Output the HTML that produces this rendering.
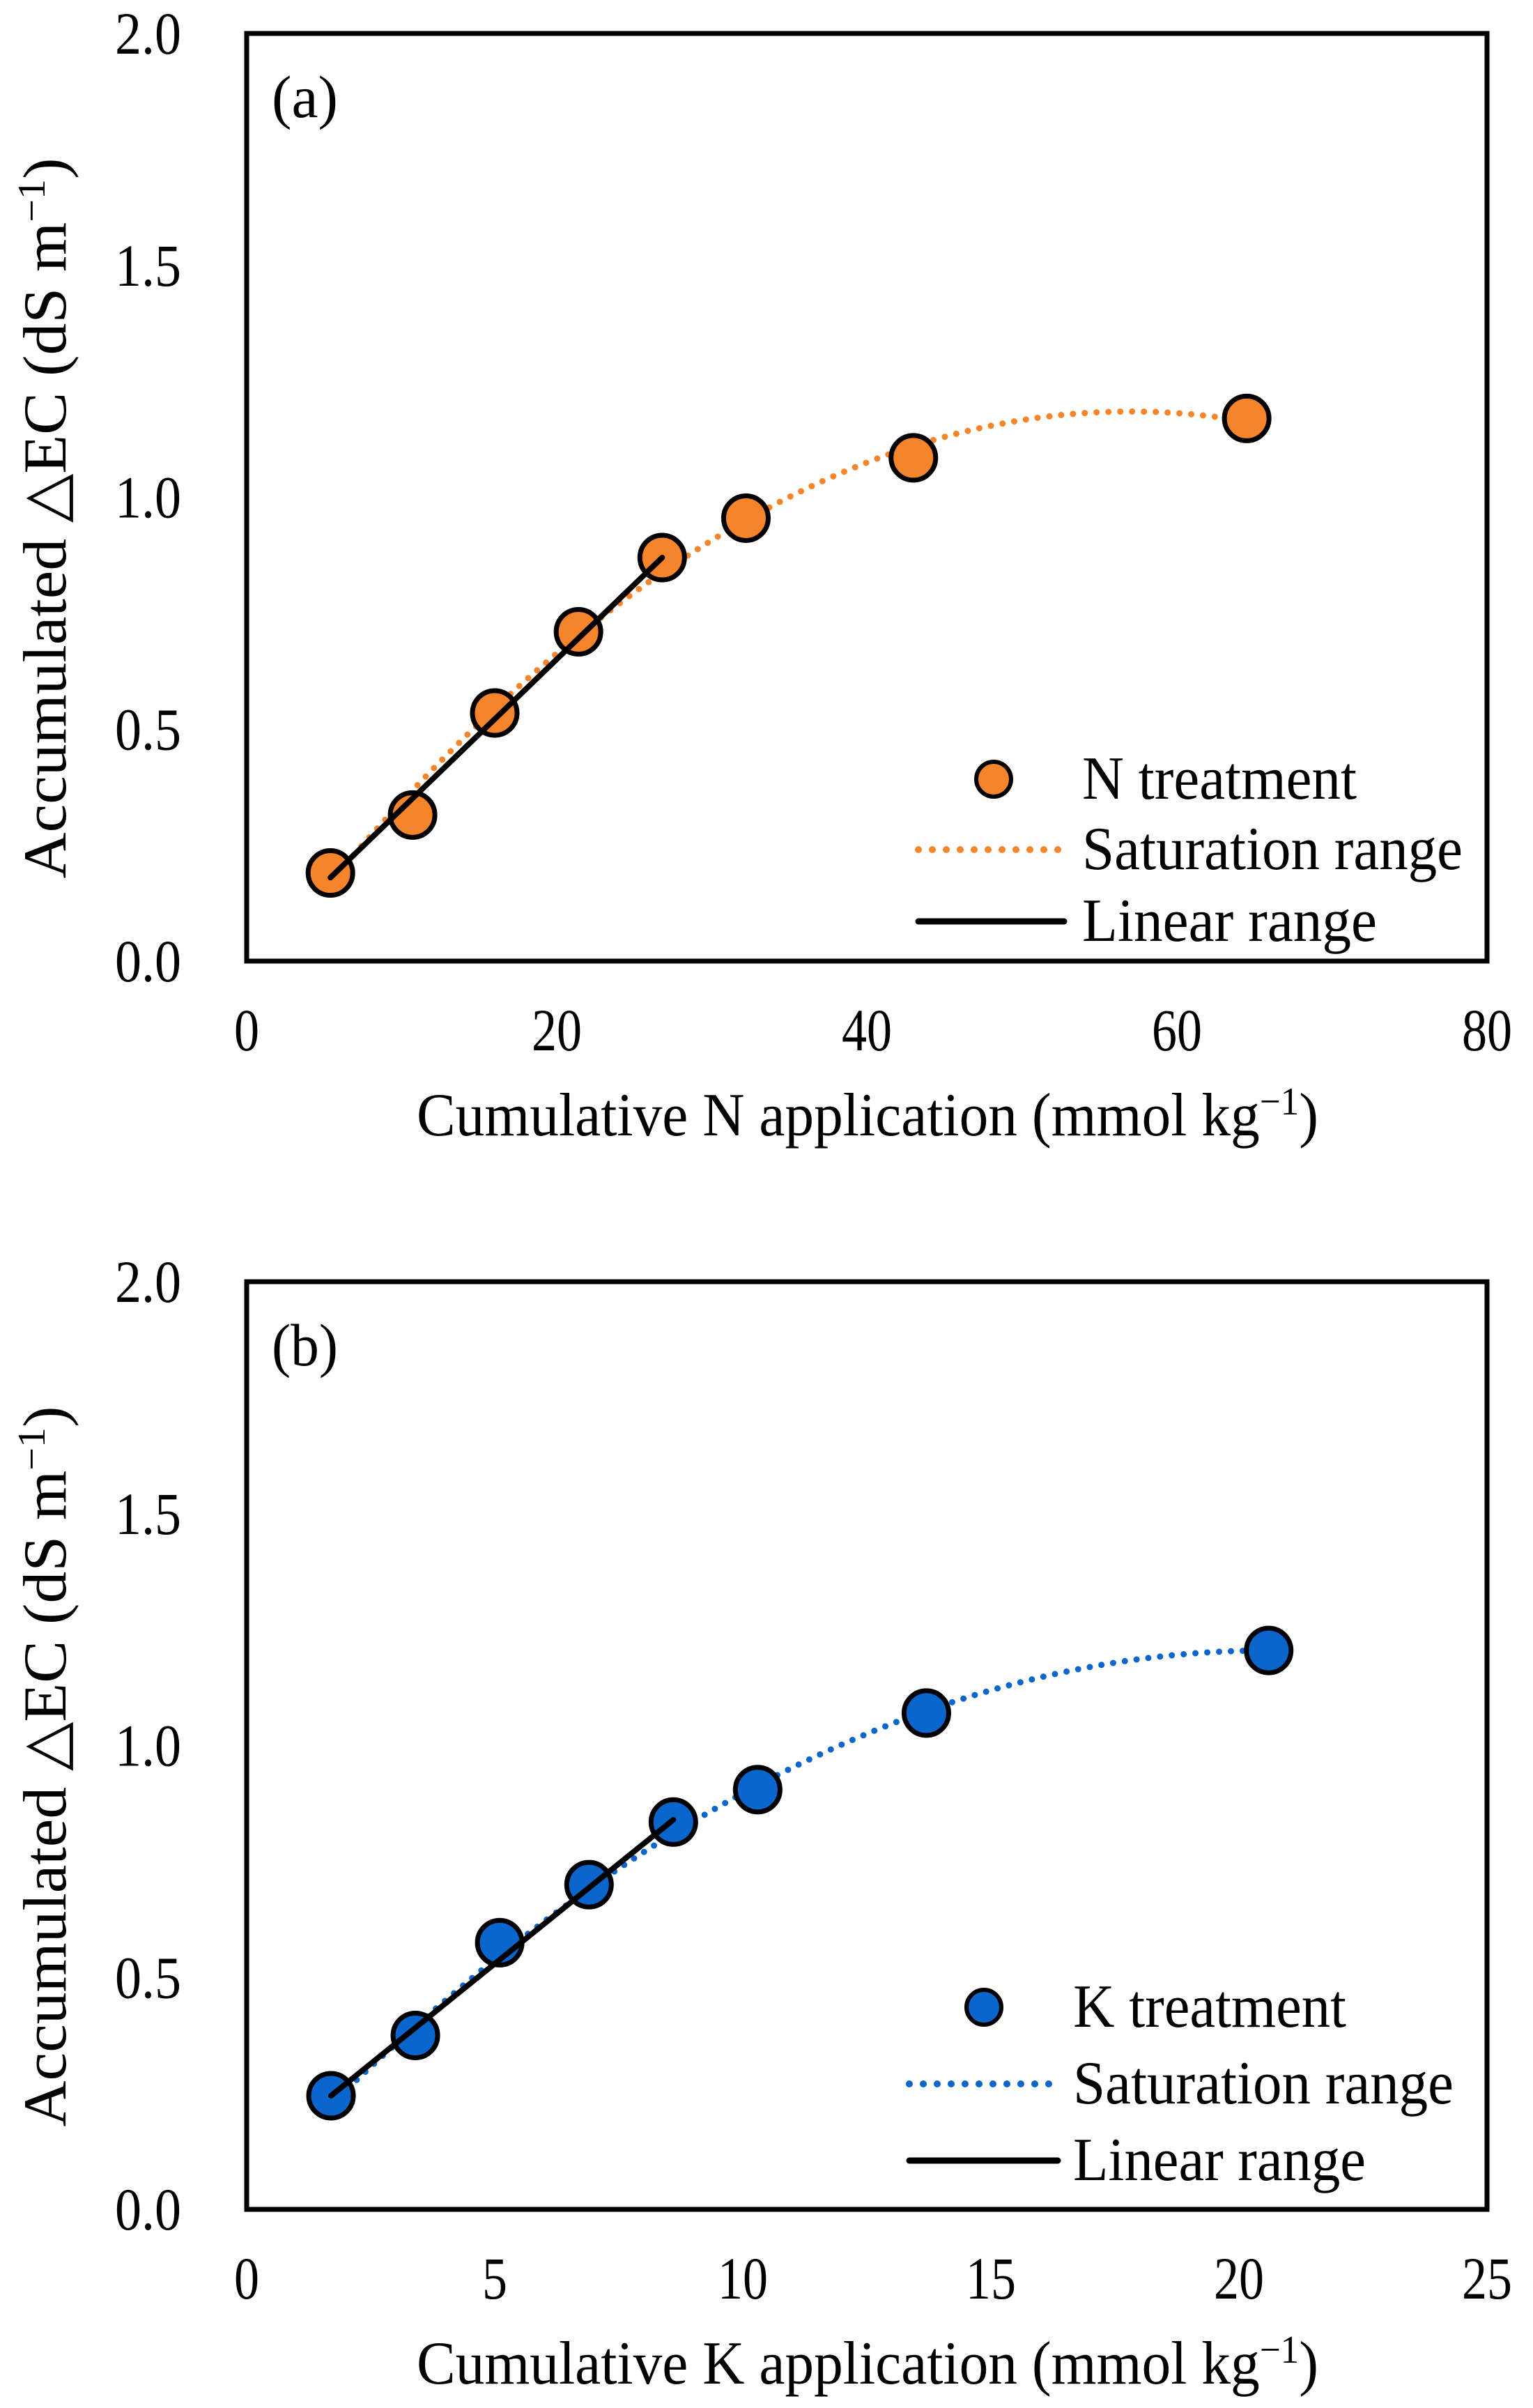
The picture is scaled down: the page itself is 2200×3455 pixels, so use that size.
<!DOCTYPE html>
<html><head><meta charset="utf-8"><style>
html,body{margin:0;padding:0;background:#fff}
svg{display:block}
text{font-family:"Liberation Serif",serif;fill:#000}
</style></head><body>
<svg id="chart" width="2200" height="3455" viewBox="0 0 2200 3455" xmlns="http://www.w3.org/2000/svg"></svg>
<script>
// Panel (a) data: N treatment
const nX = [5.4, 10.7, 16.0, 21.4, 26.8, 32.2, 43.0, 64.5];
const nY = [0.19, 0.315, 0.535, 0.71, 0.87, 0.955, 1.085, 1.17];
const nLinear = [[5.4, 0.18], [26.8, 0.87]];
const nSatPeak = [57, 1.185];
const nSatK = 0.000381;
const nSatRange = [5.4, 64.5];
const nXTicks = [0, 20, 40, 60, 80];
// Panel (b) data: K treatment
const kX = [1.7, 3.4, 5.1, 6.9, 8.6, 10.3, 13.7, 20.6];
const kY = [0.245, 0.375, 0.575, 0.70, 0.835, 0.905, 1.07, 1.205];
const kLinear = [[1.7, 0.245], [8.6, 0.84]];
const kSatPeak = [20.6, 1.205];
const kSatK = 0.00274;
const kSatRange = [1.7, 20.6];
const kXTicks = [0, 5, 10, 15, 20, 25];
const yTicks = [0.0, 0.5, 1.0, 1.5, 2.0];

const NS = "http://www.w3.org/2000/svg";
const svg = document.getElementById('chart');
function mk(tag, attrs, parent) {
  const e = document.createElementNS(NS, tag);
  for (const k in attrs) e.setAttribute(k, attrs[k]);
  (parent || svg).appendChild(e);
  return e;
}

function panel(o) {
  const L = 354, R = 2134, T = o.top, B = o.top + 1331;
  const g = mk('g', {});
  
  
  const sx = v => L + (v - o.xmin) / (o.xmax - o.xmin) * (R - L);
  const sy = v => B - v / 2.0 * (B - T);

  yTicks.forEach(t => {
    const tx = mk('text', {x: 260, y: sy(t) + 29, 'text-anchor': 'end', 'font-size': 86, textLength: 95, lengthAdjust: 'spacingAndGlyphs'}, g);
    tx.textContent = t.toFixed(1);
    
    
  });
  o.xTicks.forEach(t => {
    const s = String(t);
    const tx = mk('text', {x: sx(t), y: B + 128, 'text-anchor': 'middle', 'font-size': 86, textLength: s.length * 36, lengthAdjust: 'spacingAndGlyphs'}, g);
    tx.textContent = s;
    
    
  });
  const xt = mk('text', {x: 1245, y: B + 250, 'text-anchor': 'middle', 'font-size': 88, textLength: 1294, lengthAdjust: 'spacingAndGlyphs'}, g);
  xt.innerHTML = 'Cumulative ' + o.el + ' application (mmol kg<tspan dy="-30" font-size="56">−1</tspan><tspan dy="30">)</tspan>';
  
  
  const cy = (T + B) / 2 + 30;
  const yt = mk('text', {x: 0, y: 0, 'text-anchor': 'middle', 'font-size': 88, textLength: 1034, lengthAdjust: 'spacingAndGlyphs', transform: `translate(94 ${cy}) rotate(-90)`}, g);
  yt.innerHTML = 'Accumulated △EC (dS m<tspan dy="-30" font-size="56">−1</tspan><tspan dy="30">)</tspan>';
  
  

  let d = '';
  const n = 80;
  for (let i = 0; i <= n; i++) {
    const x = o.satRange[0] + (o.satRange[1] - o.satRange[0]) * i / n;
    const y = o.satPeak[1] - o.satK * (x - o.satPeak[0]) ** 2;
    d += (i ? 'L' : 'M') + sx(x).toFixed(1) + ' ' + sy(y).toFixed(1);
  }
  const sat = mk('path', {d: d, fill: 'none', stroke: o.color, 'stroke-width': 9, 'stroke-dasharray': '0 17', 'stroke-linecap': 'round'}, g);
  
  

  o.xs.forEach((x, i) => {
    const c = mk('circle', {cx: sx(x), cy: sy(o.ys[i]), r: 32, fill: o.color, stroke: '#000', 'stroke-width': 7}, g);
    
    
  });

  const ln = mk('line', {x1: sx(o.lin[0][0]), y1: sy(o.lin[0][1]), x2: sx(o.lin[1][0]), y2: sy(o.lin[1][1]), stroke: '#000', 'stroke-width': 8, 'stroke-linecap': 'round'}, g);
  
  

  const fr = mk('rect', {x: L, y: T, width: R - L, height: B - T, fill: 'none', stroke: '#000', 'stroke-width': 7}, g);
  
  

  const pl = mk('text', {x: 390, y: T + 120, 'font-size': 86, textLength: 95, lengthAdjust: 'spacingAndGlyphs'}, g);
  pl.textContent = o.label;
  
  

  const lg = mk('g', {}, g);
  
  
  const lx = o.legX, tx0 = o.legTextX, r = o.legRows;
  const lm = mk('circle', {cx: lx.marker, cy: r[0], r: 25, fill: o.color, stroke: '#000', 'stroke-width': 6}, lg);
  
  
  const ls = mk('line', {x1: lx.l1, y1: r[1], x2: lx.l2, y2: r[1], stroke: o.color, 'stroke-width': 10, 'stroke-dasharray': '0 20', 'stroke-linecap': 'round'}, lg);
  
  
  const ll = mk('line', {x1: lx.l1, y1: r[2], x2: lx.l2, y2: r[2], stroke: '#000', 'stroke-width': 9, 'stroke-linecap': 'round'}, lg);
  
  
  const labels = [o.el + ' treatment', 'Saturation range', 'Linear range'];
  const widths = [o.w0, 546, o.w2];
  labels.forEach((s, i) => {
    const t = mk('text', {x: tx0, y: r[i] + 28, 'font-size': 88, textLength: widths[i], lengthAdjust: 'spacingAndGlyphs'}, lg);
    t.textContent = s;
    
    
  });
}

panel({name: 'panel-a-n-treatment', top: 48, xmin: 0, xmax: 80, xTicks: nXTicks, el: 'N', label: '(a)',
  xs: nX, ys: nY, lin: nLinear, satPeak: nSatPeak, satK: nSatK, satRange: nSatRange, color: '#F5842A',
  legX: {marker: 1426, l1: 1318, l2: 1527}, legTextX: 1553, legRows: [1118, 1219, 1322], w0: 394, w2: 423});
panel({name: 'panel-b-k-treatment', top: 1839, xmin: 0, xmax: 25, xTicks: kXTicks, el: 'K', label: '(b)',
  xs: kX, ys: kY, lin: kLinear, satPeak: kSatPeak, satK: kSatK, satRange: kSatRange, color: '#0A66CC',
  legX: {marker: 1412, l1: 1305, l2: 1518}, legTextX: 1540, legRows: [2880, 2990, 3100], w0: 392, w2: 420});
</script>
</body></html>
